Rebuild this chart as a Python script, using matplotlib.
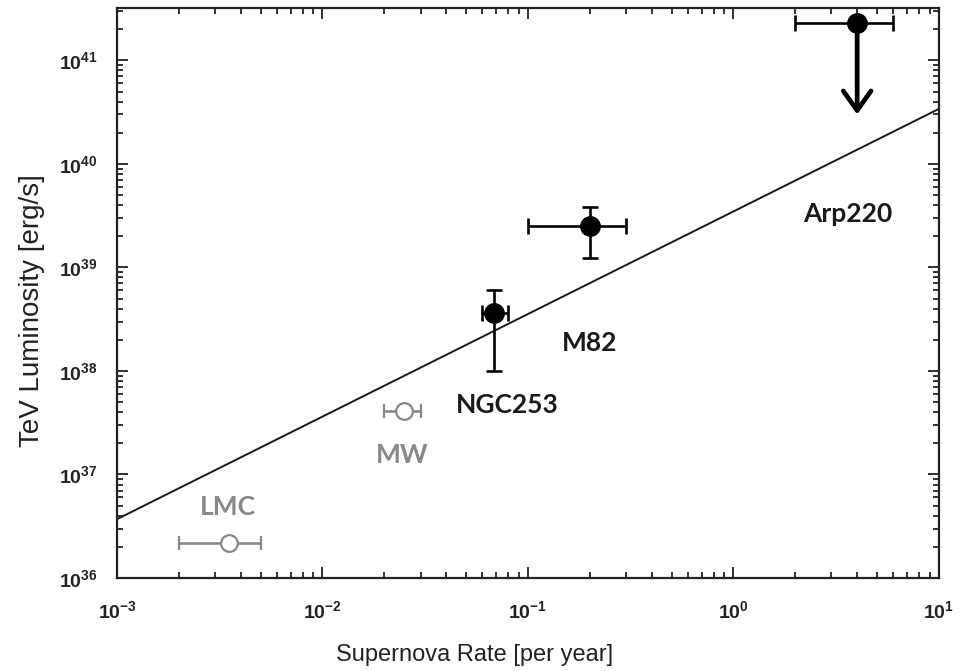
import matplotlib
matplotlib.use("Agg")
import matplotlib.pyplot as plt
from matplotlib.ticker import LogLocator, NullFormatter

plt.rcParams["mathtext.fontset"] = "custom"
plt.rcParams["mathtext.bf"] = "Liberation Sans:bold"
plt.rcParams["mathtext.rm"] = "Liberation Sans"

# detected galaxies: supernova rate [1/yr], TeV luminosity [erg/s]
names = ["M82", "NGC253"]
rate = [0.2, 0.068]
rate_lo = [0.1, 0.06]
rate_hi = [0.3, 0.08]
lum = [2.5e39, 3.6e38]
lum_lo = [1.23e39, 1.0e38]
lum_hi = [3.8e39, 6.1e38]

# Arp220 upper limit
arp_rate = 4.0
arp_rate_lo = 2.0
arp_rate_hi = 6.0
arp_lum = 2.3e41
arp_arrow_end = 3.0e40

# predicted (open symbols)
pred_names = ["MW", "LMC"]
pred_rate = [0.025, 0.0035]
pred_rate_lo = [0.02, 0.002]
pred_rate_hi = [0.03, 0.005]
pred_lum = [4.1e37, 2.2e36]

# scaling line
fit_rate = [1e-3, 1e1]
fit_lum = [3.7e36, 3.4e40]

# label positions
label_text = ["Arp220", "M82", "NGC253", "MW", "LMC"]
label_x = [3.6, 0.2, 0.079, 0.0245, 0.00345]
label_y = [3.3e39, 1.85e38, 4.7e37, 1.55e37, 4.8e36]
label_col = ["#1a1a1a", "#1a1a1a", "#1a1a1a", "#888888", "#888888"]

fig = plt.figure(figsize=(9.63, 6.71), dpi=100)
ax = fig.add_axes([0.1215, 0.1386, 0.8535, 0.8494])
ax.set_xscale("log")
ax.set_yscale("log")

ax.plot(fit_rate, fit_lum, color="#1a1a1a", lw=1.4)

xerr = [[r - lo for r, lo in zip(rate, rate_lo)], [hi - r for r, hi in zip(rate, rate_hi)]]
yerr = [[l - lo for l, lo in zip(lum, lum_lo)], [hi - l for l, hi in zip(lum, lum_hi)]]
ax.errorbar(rate, lum, xerr=xerr, yerr=yerr, fmt="o", color="black", ms=14,
            elinewidth=1.9, capsize=6, capthick=1.9, zorder=3)

ax.errorbar([arp_rate], [arp_lum], xerr=[[arp_rate - arp_rate_lo], [arp_rate_hi - arp_rate]],
            fmt="o", color="black", ms=14, elinewidth=1.9, capsize=6, capthick=1.9,
            zorder=3, clip_on=False)
ax.annotate("", xy=(arp_rate, arp_arrow_end), xytext=(arp_rate, arp_lum),
            arrowprops=dict(arrowstyle="->,head_length=0.7,head_width=0.5",
                            mutation_scale=20, color="black", lw=3.4,
                            shrinkA=0, shrinkB=0), zorder=3)

pxerr = [[r - lo for r, lo in zip(pred_rate, pred_rate_lo)],
         [hi - r for r, hi in zip(pred_rate, pred_rate_hi)]]
ax.errorbar(pred_rate, pred_lum, xerr=pxerr, fmt="o", color="#888888", mfc="white",
            mec="#888888", ms=12, mew=1.6, elinewidth=1.9, capsize=5, capthick=1.9, zorder=3)

for t, x, y, c in zip(label_text, label_x, label_y, label_col):
    ax.text(x, y, t, color=c, fontsize=19, fontweight="bold", family="Lato",
            ha="center", va="center")

ax.set_xlim(1e-3, 1e1)
ax.xaxis.set_minor_locator(LogLocator(base=10, subs=range(2, 10), numticks=20))
ax.yaxis.set_minor_locator(LogLocator(base=10, subs=range(2, 10), numticks=20))
ax.xaxis.set_minor_formatter(NullFormatter())
ax.yaxis.set_minor_formatter(NullFormatter())
ax.set_xticks([1e-3, 1e-2, 1e-1, 1e0, 1e1])
ax.set_xticklabels([r"$\mathbf{10^{-3}}$", r"$\mathbf{10^{-2}}$", r"$\mathbf{10^{-1}}$",
                    r"$\mathbf{10^{0}}$", r"$\mathbf{10^{1}}$"])
ax.set_yticks([1e36, 1e37, 1e38, 1e39, 1e40, 1e41])
ax.set_yticklabels([r"$\mathbf{10^{%d}}$" % e for e in range(36, 42)])
ax.set_ylim(1e36, 3.2e41)

ax.tick_params(which="both", direction="in", top=True, right=True, labelsize=14,
               color="#222222", width=1.3, labelcolor="#222222")
ax.tick_params(which="major", length=8)
ax.tick_params(axis="x", which="major", pad=16)
ax.tick_params(axis="y", which="major", pad=14)
ax.tick_params(which="minor", length=4)
for s in ax.spines.values():
    s.set_linewidth(1.6)
    s.set_color("#222222")

ax.set_xlabel("Supernova Rate [per year]", fontsize=17, family="Liberation Sans",
              color="#222222")
ax.set_ylabel("TeV Luminosity [erg/s]", fontsize=20, family="Liberation Sans",
              color="#222222")
ax.xaxis.set_label_coords(0.435, -0.115)
ax.yaxis.set_label_coords(-0.088, 0.47)

fig.savefig("out.png", dpi=100)
